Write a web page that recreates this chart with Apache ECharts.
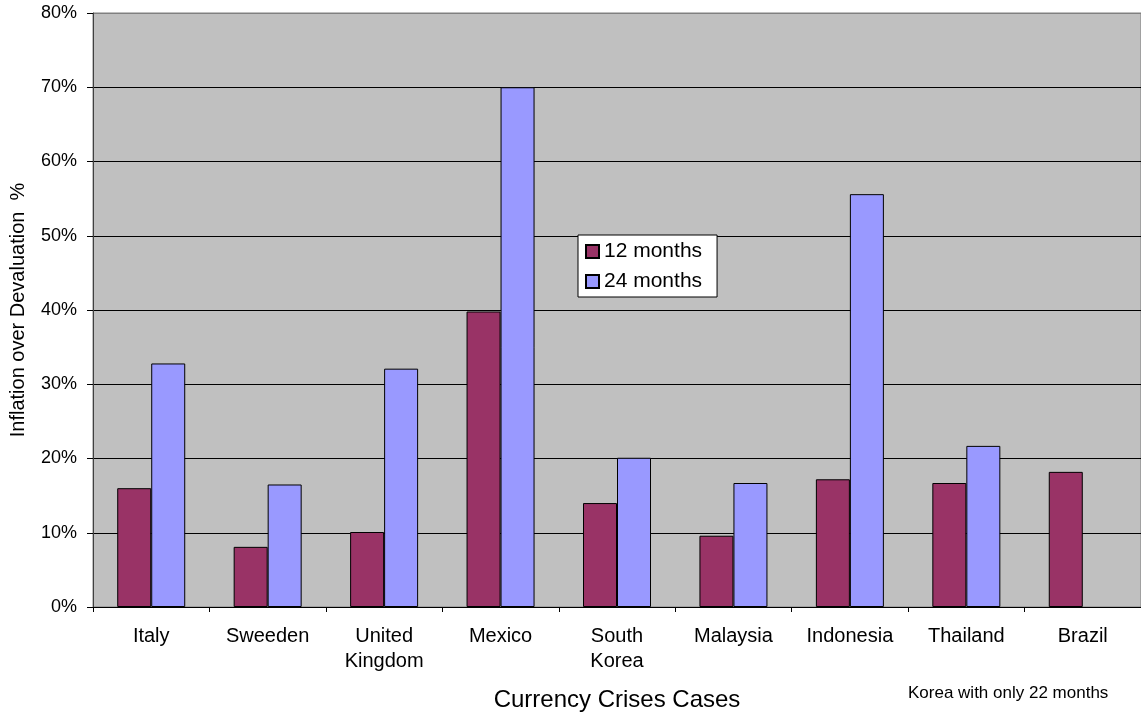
<!DOCTYPE html>
<html>
<head>
<meta charset="utf-8">
<title>Currency Crises Cases</title>
<script src="https://cdn.jsdelivr.net/npm/echarts@6/dist/echarts.min.js"></script>
<style>
  html, body { margin: 0; padding: 0; background: #fff; }
  #chart { width: 1141px; height: 712px; }
</style>
</head>
<body>
<div id="chart"></div>
<script>
// 数据
const categories = ['Italy', 'Sweeden', 'United\nKingdom', 'Mexico', 'South\nKorea', 'Malaysia', 'Indonesia', 'Thailand', 'Brazil']
const months12 = [16.0, 8.1, 10.1, 39.8, 14.0, 9.6, 17.2, 16.7, 18.2]
const months24 = [32.8, 16.5, 32.1, 70.0, 20.1, 16.7, 55.6, 21.7, null]
const yTicks = [0, 10, 20, 30, 40, 50, 60, 70, 80]

const font = 'Liberation Sans, Arial, sans-serif'
const chart = echarts.init(document.getElementById('chart'))

// 最上面那条线是绘图区边框，灰色
const splitColors = yTicks.map((t, i) => (i === yTicks.length - 1 ? '#808080' : '#000'))

const option = {
  animation: false,
  textStyle: { fontFamily: font, color: '#000' },
  grid: {
    left: 93,
    right: 0,
    top: 13,
    bottom: 105,
    outerBoundsMode: 'none', // 不让 v6 自动缩小绘图区
    containLabel: false,
    show: true,
    backgroundColor: '#C0C0C0',
    borderColor: '#808080',
    borderWidth: 1
  },
  legend: {
    orient: 'vertical',
    left: 578,
    top: 235,
    icon: 'rect',
    itemWidth: 13,
    itemHeight: 13,
    itemGap: 9,
    itemTextGap: 7,
    padding: [6, 15, 5, 7],
    backgroundColor: '#fff',
    borderColor: '#000',
    borderWidth: 1,
    borderRadius: 0,
    textStyle: { fontFamily: font, fontSize: 21, color: '#000' },
    data: ['12 months', '24 months']
  },
  xAxis: {
    type: 'category',
    data: categories,
    name: 'Currency Crises Cases',
    nameLocation: 'middle',
    nameGap: 81,
    nameTextStyle: { fontFamily: font, fontSize: 24, color: '#000' },
    axisLine: { lineStyle: { color: '#000', width: 1 } },
    axisTick: { show: true, length: 5, lineStyle: { color: '#000' } },
    axisLabel: {
      interval: 0,
      margin: 17,
      fontFamily: font,
      fontSize: 20,
      lineHeight: 25,
      color: '#000'
    }
  },
  yAxis: {
    type: 'value',
    min: 0,
    max: 80,
    interval: 10,
    name: 'Inflation over Devaluation  %',
    nameLocation: 'middle',
    nameRotate: 90,
    nameGap: 65,
    nameTextStyle: { fontFamily: font, fontSize: 20, color: '#000' },
    axisLine: { show: true, lineStyle: { color: '#404040', width: 1 } },
    axisTick: { show: true, inside: false, length: 6, lineStyle: { color: '#000' } },
    axisLabel: {
      formatter: '{value}%',
      margin: 16,
      fontFamily: font,
      fontSize: 18,
      color: '#000'
    },
    splitLine: { show: true, lineStyle: { color: splitColors, width: 1 } }
  },
  series: [
    {
      name: '12 months',
      type: 'bar',
      data: months12,
      barWidth: 34,
      barGap: '0%',
      itemStyle: { color: '#993366', borderColor: '#000', borderWidth: 1 }
    },
    {
      name: '24 months',
      type: 'bar',
      data: months24,
      barWidth: 34,
      barGap: '0%',
      itemStyle: { color: '#9999FF', borderColor: '#000', borderWidth: 1 }
    }
  ],
  graphic: [
    {
      type: 'text',
      left: 908,
      top: 685,
      style: {
        text: 'Korea with only 22 months',
        fontFamily: font,
        fontSize: 17,
        fill: '#000'
      }
    }
  ]
}

chart.setOption(option)
</script>
</body>
</html>
